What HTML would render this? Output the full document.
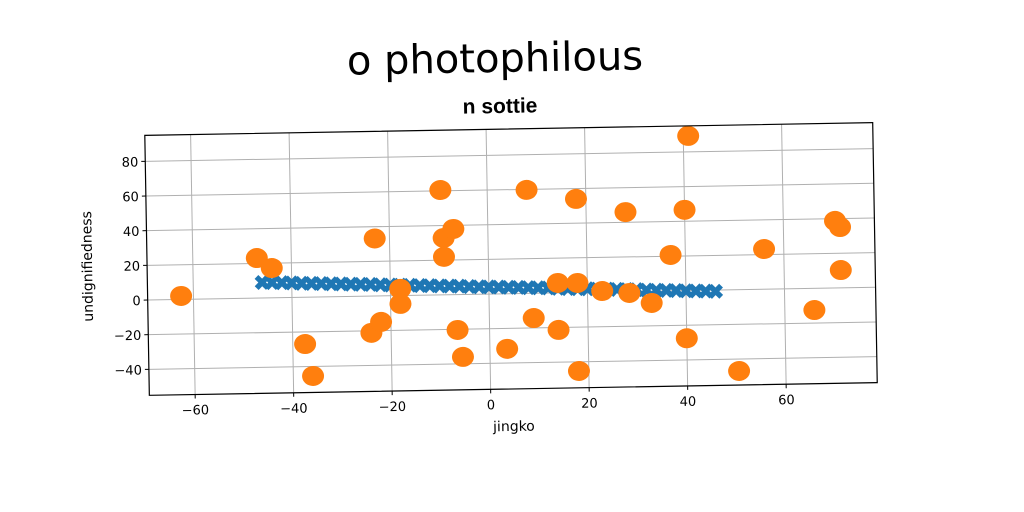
<!DOCTYPE html>
<html><head><meta charset="utf-8"><style>
body{margin:0;background:#fff;}
svg{display:block;font-family:"DejaVu Sans","Liberation Sans",sans-serif;}
</style></head><body>
<svg width="1024" height="512" viewBox="0 0 1024 512">
<text x="495" y="72" text-anchor="middle" font-size="40" font-family="'Comic Sans MS','DejaVu Sans',sans-serif" transform="rotate(-1 495 60)">o photophilous</text>
<text x="500" y="113" text-anchor="middle" font-size="21" font-weight="bold" font-family="'Liberation Sans Narrow','Liberation Sans',sans-serif" transform="rotate(-1 500 105)">n sottie</text>
<g id="plot" transform="rotate(-1 510 258)"></g>
</svg>
<script>
const xTicks=[-60,-40,-20,0,20,40,60];
const yTicks=[-40,-20,0,20,40,60,80];
const blueX=[-46,-44,-42,-40,-38,-36,-34,-32,-30,-28,-26,-24,-22,-20,-18,-16,-14,-12,-10,-8,-6,-4,-2,0,2,4,6,8,10,12,14,16,18,20,22,24,26,28,30,32,34,36,38,40,42,44,46];
const blueY=[9,8.8,8.6,8.4,8.1,7.9,7.7,7.5,7.3,7.1,6.9,6.7,6.4,6.2,6,5.8,5.6,5.4,5.2,5,4.8,4.5,4.3,4.1,3.9,3.7,3.5,3.3,3.1,2.9,2.6,2.4,2.2,2,1.8,1.6,1.4,1.2,1,0.7,0.5,0.3,0.1,-0.1,-0.3,-0.5,-0.7];
const orangeX=[-62.5,-47,-44,-37.5,-36,-23,-24,-22,-18,-18,-9.5,-9,-7,-9,-6.5,-5.5,3.5,9,8,14,14,18,18,18,23,28,28.5,33,37,40,41,40,50.5,56,66,70.5,71.5,71.5];
const orangeY=[2,23.1,17.2,-27,-45.5,33.2,-21.2,-15,3.9,-4.8,60.5,32.8,37.9,21.9,-20.4,-36,-31.8,-14.3,59.7,-21.4,5.7,5.5,54,-45.3,0.6,45.9,-0.8,-6.8,20.7,46.6,89.2,-27.5,-46.9,23.2,-12.5,38.7,35.1,10.3];
const NS='http://www.w3.org/2000/svg';
const g=document.getElementById('plot');
const L=147,R=875,T=129,B=389;
const xmin=-69.3,xmax=78.5,ymin=-55,ymax=95;
const sx=v=>L+(v-xmin)/(xmax-xmin)*(R-L);
const sy=v=>B-(v-ymin)/(ymax-ymin)*(B-T);
function mk(t,a){const e=document.createElementNS(NS,t);for(const k in a)e.setAttribute(k,a[k]);g.appendChild(e);return e;}
xTicks.forEach(v=>{
 const l=mk('line',{x1:sx(v),x2:sx(v),y1:T,y2:B,stroke:'#b0b0b0','stroke-width':1});
 
 
 mk('line',{x1:sx(v),x2:sx(v),y1:B,y2:B+4,stroke:'#000'});
 const t=mk('text',{x:sx(v),y:B+20,'text-anchor':'middle','font-size':13});
 t.textContent=v<0?'\u2212'+(-v):v;
 
 
});
yTicks.forEach(v=>{
 const l=mk('line',{x1:L,x2:R,y1:sy(v),y2:sy(v),stroke:'#b0b0b0','stroke-width':1});
 
 
 mk('line',{x1:L-4,x2:L,y1:sy(v),y2:sy(v),stroke:'#000'});
 const t=mk('text',{x:L-7,y:sy(v)+5,'text-anchor':'end','font-size':13});
 t.textContent=v<0?'\u2212'+(-v):v;
 
 
});
blueX.forEach((x,i)=>{
 const cx=sx(x),cy=sy(blueY[i]),s=7.5,w=3.8;
 const p=mk('path',{d:`M${cx-s} ${cy-s+w}L${cx-s+w} ${cy-s}L${cx} ${cy-w}L${cx+s-w} ${cy-s}L${cx+s} ${cy-s+w}L${cx+w} ${cy}L${cx+s} ${cy+s-w}L${cx+s-w} ${cy+s}L${cx} ${cy+w}L${cx-s+w} ${cy+s}L${cx-s} ${cy+s-w}L${cx-w} ${cy}Z`,fill:'#1f77b4'});
 
 
});
orangeX.forEach((x,i)=>{
 const c=mk('ellipse',{cx:sx(x),cy:sy(orangeY[i]),rx:11,ry:10,fill:'#ff7f0e'});
 
 
});
const fr=mk('rect',{x:L,y:T,width:R-L,height:B-T,fill:'none',stroke:'#000','stroke-width':1.2});


const xl=mk('text',{x:(L+R)/2,y:B+42,'text-anchor':'middle','font-size':14});
xl.textContent='jingko';


const yl=mk('text',{x:92,y:(T+B)/2,'text-anchor':'middle','font-size':14,transform:`rotate(-90 92 ${(T+B)/2})`});
yl.textContent='undignifiedness';


</script>
</body></html>
